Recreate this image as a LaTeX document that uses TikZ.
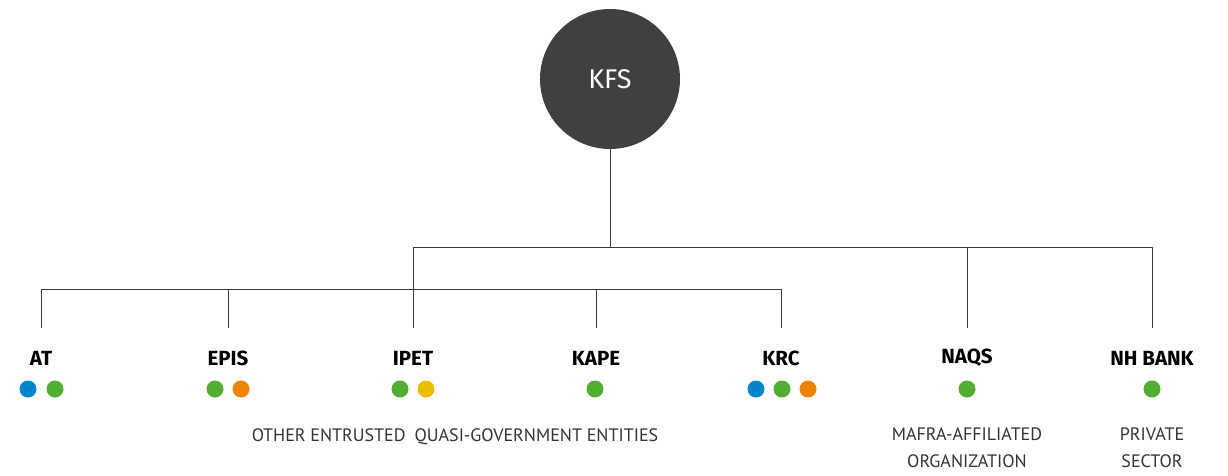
\documentclass[tikz,border=0pt]{standalone}
\usepackage{fontspec}
\setmainfont{Fira Sans}
\newfontfamily\notefont{PT Sans}
\definecolor{hubgray}{HTML}{404040}
\definecolor{linegray}{HTML}{3A3A3A}
\definecolor{dotblue}{HTML}{0085CC}
\definecolor{dotgreen}{HTML}{52AE32}
\definecolor{dotorange}{HTML}{EE8300}
\definecolor{dotyellow}{HTML}{EBBD00}
\tikzset{
  hub/.style={circle,fill=hubgray,minimum size=140pt,inner sep=0pt,text=white,font=\fontsize{27}{30}\selectfont},
  unit/.style={inner sep=0pt,font=\fontsize{20.5}{24}\selectfont\bfseries},
  note/.style={inner sep=0pt,align=center,text=black!80,font=\notefont\fontsize{18}{27}\selectfont},
  link/.style={draw=linegray,line width=0.9pt},
}
\begin{document}
\begin{tikzpicture}[x=1pt,y=-1pt]
    \useasboundingbox (0,0) rectangle (1228,476);
    \node[hub] (kfs) at (610,79) {KFS};
    % entities
    \foreach \n/\lbl/\x in {at/AT/41, epis/EPIS/228, ipet/IPET/413, kape/KAPE/596,
                          krc/KRC/781, naqs/NAQS/967, nhbank/NH BANK/1152} {
        \node[unit] (\n) at (\x,358) {\lbl};
        \coordinate (top-\n) at (\x,328);
    }
    % tree lines
    \coordinate (topbus) at (610,247);
    \coordinate (lowbus) at (413,289);
    \draw[link] (kfs) -- (topbus);
    \draw[link] (top-ipet |- topbus) -- (top-nhbank |- topbus);
    \foreach \n in {ipet,naqs,nhbank}
        \draw[link] (top-\n |- topbus) -- (top-\n);
    \draw[link] (top-at |- lowbus) -- (top-krc |- lowbus);
    \foreach \n in {at,epis,kape,krc}
        \draw[link] (top-\n |- lowbus) -- (top-\n);
    % dots
    \foreach \x/\c in {28/dotblue, 55/dotgreen, 215/dotgreen, 241/dotorange,
                       400/dotgreen, 426/dotyellow, 595/dotgreen,
                       756/dotblue, 782/dotgreen, 808/dotorange,
                       967/dotgreen, 1152/dotgreen}
        \fill[\c] (\x,389) circle (8.5);
    % groups
    \node[note] (others) at (455,437) {OTHER ENTRUSTED\enspace QUASI-GOVERNMENT ENTITIES};
    \node[note] (mafra) at (967,448) {MAFRA-AFFILIATED\\ORGANIZATION};
    \node[note] (private) at (1152,448) {PRIVATE\\SECTOR};
\end{tikzpicture}
\end{document}
